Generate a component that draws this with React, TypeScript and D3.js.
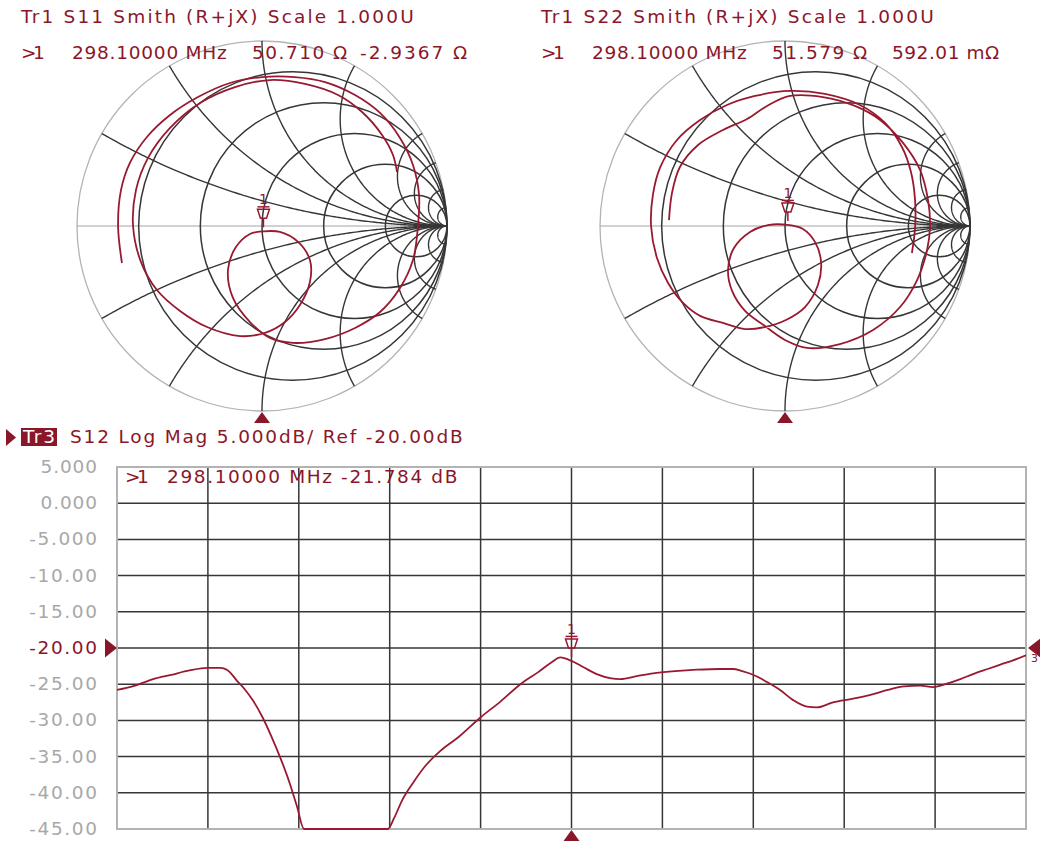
import React from "react";
import * as d3 from "d3";

const W = 1040;
const H = 843;
const TEXT_RED = "#8a1729";
const TRACE_RED = "#991a30";
const GRID_DARK = "#363636";
const RIM_GRAY = "#b3b3b3";
const AXIS_GRAY = "#a3a3a3";
const TICK_GRAY = "#a8a8a8";
const FONT = "'DejaVu Sans', Verdana, sans-serif";

// ---- Smith chart geometry ----
const SMITH_RADIUS = 185;
const SMITH_CY = 226;
const S11_CX = 262;
const S22_CX = 785;
const Z0 = 50;

// Grid: constant-resistance circles and constant-reactance arcs (normalized)
const resistanceCircles = [0.2, 0.5, 1, 2, 5];
const reactanceArcs = [0.268, 0.577, 1, 1.732, 3.732, 5.67, 10, 20];

// ---- S11 trace, reflection coefficient ----
const s11Re = [
  -0.757, -0.778, -0.762, -0.714, -0.622, -0.497, -0.346, -0.173, 0.0, 0.178,
  0.341, 0.503, 0.638, 0.746, 0.816, 0.849, 0.843, 0.816, 0.746, 0.638,
  0.503, 0.341, 0.168, 0.043, -0.065, -0.157, -0.184, -0.141, -0.065, 0.0079,
  0.097, 0.195, 0.259, 0.259, 0.205, 0.124, 0.016, -0.119, -0.297, -0.443,
  -0.568, -0.654, -0.697, -0.681, -0.616, -0.497, -0.335, -0.146, 0.043, 0.232,
  0.411, 0.541, 0.649, 0.708, 0.73,
];
const s11Im = [
  -0.2, 0.0, 0.195, 0.341, 0.481, 0.6, 0.697, 0.773, 0.805, 0.805,
  0.778, 0.708, 0.611, 0.476, 0.33, 0.168, 0.0, -0.184, -0.335, -0.465,
  -0.551, -0.611, -0.632, -0.605, -0.519, -0.389, -0.238, -0.114, -0.043, -0.0289,
  -0.032, -0.086, -0.184, -0.303, -0.427, -0.519, -0.578, -0.595, -0.546, -0.459,
  -0.346, -0.195, 0.0, 0.195, 0.368, 0.53, 0.665, 0.751, 0.789, 0.768,
  0.708, 0.616, 0.492, 0.384, 0.292,
];
const s11MarkerR = 50.71;
const s11MarkerX = -2.9367;

// ---- S22 trace, reflection coefficient ----
const s22Re = [
  -0.627, -0.611, -0.568, -0.47, -0.335, -0.205, -0.097, 0.027, 0.205, 0.378,
  0.514, 0.638, 0.73, 0.773, 0.784, 0.768, 0.714, 0.622, 0.476, 0.297,
  0.119, 0.0, -0.108, -0.216, -0.286, -0.308, -0.276, -0.189, -0.092, 0.0156,
  0.097, 0.162, 0.195, 0.178, 0.108, 0.005, -0.108, -0.216, -0.335, -0.459,
  -0.551, -0.632, -0.692, -0.724, -0.714, -0.676, -0.584, -0.459, -0.314, -0.162,
  0.027, 0.216, 0.405, 0.541, 0.632, 0.681, 0.703, 0.703, 0.686,
];
const s22Im = [
  0.032, 0.178, 0.319, 0.438, 0.519, 0.578, 0.649, 0.703, 0.697, 0.649,
  0.573, 0.449, 0.303, 0.141, 0.0, -0.13, -0.292, -0.438, -0.562, -0.638,
  -0.659, -0.616, -0.541, -0.459, -0.351, -0.238, -0.119, -0.032, 0.005, 0.0057,
  -0.016, -0.086, -0.195, -0.319, -0.438, -0.508, -0.546, -0.557, -0.524, -0.486,
  -0.416, -0.308, -0.173, 0.0, 0.168, 0.314, 0.465, 0.573, 0.654, 0.703,
  0.73, 0.714, 0.654, 0.557, 0.427, 0.292, 0.141, -0.011, -0.146,
];
const s22MarkerR = 51.579;
const s22MarkerX = 0.59201;

// ---- S12 log magnitude sweep ----
const sweepStartMHz = 48.1;
const sweepStopMHz = 548.1;
const freqDivisions = 10;
const markerFreqMHz = 298.1;
const s12MarkerDb = -21.784;
const refLevelDb = -20;
const s12FreqMHz = [
  48.1, 58, 68, 78, 88, 98, 105, 110, 114, 118,
  123, 128, 133, 138, 143, 147, 151, 197, 200.5, 205,
  211, 218, 226, 236, 248, 259, 270, 280, 287, 292,
  298.1, 305, 312, 320, 325, 334, 343, 355, 367, 380,
  387, 392, 398, 405.6, 412.8, 420, 427.6, 433, 442, 453,
  462, 472, 481, 490, 497, 505, 512, 519, 527, 534,
  541, 548.1,
];
const s12Db = [
  -25.8, -25.2, -24.3, -23.7, -23.1, -22.75, -22.75, -23.3, -24.5, -25.6,
  -27.3, -29.5, -32.2, -35.2, -38.6, -41.8, -45, -45, -43.5, -41.0,
  -38.6, -36.2, -34.2, -32.3, -29.6, -27.4, -25.0, -23.3, -22.0, -21.3,
  -21.784, -22.7, -23.6, -24.2, -24.3, -23.9, -23.5, -23.2, -23.0, -22.9,
  -22.9, -23.2, -23.7, -24.7, -25.8, -27.2, -28.1, -28.2, -27.5, -27.0,
  -26.5, -25.8, -25.3, -25.2, -25.4, -24.9, -24.3, -23.6, -22.9, -22.3,
  -21.7, -21.0,
];
const dbTicks = [5, 0, -5, -10, -15, -20, -25, -30, -35, -40, -45];
const dbTickLabels = [
  "5.000", "0.000", "-5.000", "-10.00", "-15.00", "-20.00",
  "-25.00", "-30.00", "-35.00", "-40.00", "-45.00",
];

// Plot frame of the log-mag trace
const PLOT_LEFT = 117;
const PLOT_RIGHT = 1026;
const PLOT_TOP = 467;
const PLOT_BOTTOM = 829;

// z = r + jx  ->  reflection coefficient
function gamma(r: number, x: number): [number, number] {
  const den = (r + 1) * (r + 1) + x * x;
  return [(r * r - 1 + x * x) / den, (2 * x) / den];
}

function SpacedText(props: {
  x: number;
  y: number;
  text: string;
  pitch?: number;
  fill?: string;
  size?: number;
}) {
  const { x, y, text, pitch = 11.9, fill = TEXT_RED, size = 18.5 } = props;
  return (
    <text
      x={x}
      y={y}
      fill={fill}
      fontSize={size}
      textLength={text.length * pitch}
      lengthAdjust="spacing"
    >
      {text}
    </text>
  );
}

function MarkerGlyph({ mx, my }: { mx: number; my: number }) {
  return (
    <g stroke={TRACE_RED} strokeWidth={1.5} fill="none">
      <text
        x={mx}
        y={my - 27}
        fontSize={14}
        textAnchor="middle"
        fill={TEXT_RED}
        stroke="none"
      >
        1
      </text>
      <line x1={mx - 6} x2={mx + 6} y1={my - 24.5} y2={my - 24.5} />
      <path d={`M${mx - 6},${my - 22}H${mx + 6}L${mx + 3},${my - 13}H${mx - 3}Z`} />
      <line x1={mx} x2={mx} y1={my - 13} y2={my - 4} />
    </g>
  );
}

function UpTriangle({ x, y }: { x: number; y: number }) {
  return <path d={`M${x},${y}L${x + 8},${y + 11}L${x - 8},${y + 11}Z`} fill={TEXT_RED} />;
}

function SmithChart(props: {
  cx: number;
  re: number[];
  im: number[];
  markerR: number;
  markerX: number;
  title: string;
  textX: number;
  valueTexts: { x: number; text: string }[];
}) {
  const { cx, re, im, markerR, markerX, title, textX, valueTexts } = props;
  const sx = d3.scaleLinear().domain([-1, 1]).range([cx - SMITH_RADIUS, cx + SMITH_RADIUS]);
  const sy = d3.scaleLinear().domain([-1, 1]).range([SMITH_CY + SMITH_RADIUS, SMITH_CY - SMITH_RADIUS]);

  const gridLine = d3
    .line<[number, number]>()
    .x((d) => sx(d[0]))
    .y((d) => sy(d[1]));
  const traceLine = d3
    .line<[number, number]>()
    .x((d) => sx(d[0]))
    .y((d) => sy(d[1]))
    .curve(d3.curveCatmullRom.alpha(0.5));

  // resistance samples along each reactance arc, from the rim (r = 0) toward the open point
  const rSamples = d3.range(0, 301).map((i) => (Math.pow(10001, i / 300) - 1) / 10);
  const arcPaths = reactanceArcs
    .flatMap((x) => [x, -x])
    .map((x) => gridLine(rSamples.map((r) => gamma(r, x))) as string);

  const tracePath = traceLine(re.map((v, i) => [v, im[i]] as [number, number])) as string;
  const [mgr, mgi] = gamma(markerR / Z0, markerX / Z0);
  const mx = sx(mgr);
  const my = sy(mgi);

  return (
    <g>
      <circle cx={sx(0)} cy={sy(0)} r={SMITH_RADIUS} fill="none" stroke={RIM_GRAY} strokeWidth={1.3} />
      <line x1={sx(-1)} x2={sx(1)} y1={sy(0)} y2={sy(0)} stroke={AXIS_GRAY} strokeWidth={1.2} />
      {resistanceCircles.map((r) => (
        <circle
          key={`r${r}`}
          cx={sx(r / (1 + r))}
          cy={sy(0)}
          r={sx(1 / (1 + r)) - sx(0)}
          fill="none"
          stroke={GRID_DARK}
          strokeWidth={1.5}
        />
      ))}
      {arcPaths.map((d, i) => (
        <path key={`x${i}`} d={d} fill="none" stroke={GRID_DARK} strokeWidth={1.4} />
      ))}
      <path d={tracePath} fill="none" stroke={TRACE_RED} strokeWidth={1.8} />
      <MarkerGlyph mx={mx} my={my} />
      <UpTriangle x={sx(0)} y={sy(-1) + 1} />
      <SpacedText x={textX} y={23} text={title} />
      {valueTexts.map((t, i) => (
        <SpacedText key={i} x={t.x} y={59} text={t.text} />
      ))}
    </g>
  );
}

function LogMagChart() {
  const x = d3.scaleLinear().domain([sweepStartMHz, sweepStopMHz]).range([PLOT_LEFT, PLOT_RIGHT]);
  const y = d3.scaleLinear().domain([-45, 5]).range([PLOT_BOTTOM, PLOT_TOP]);
  const step = (sweepStopMHz - sweepStartMHz) / freqDivisions;
  const vLines = d3.range(1, freqDivisions).map((i) => sweepStartMHz + i * step);
  const hLines = dbTicks.slice(1, -1);

  const line = d3
    .line<[number, number]>()
    .x((d) => x(d[0]))
    .y((d) => y(d[1]))
    .curve(d3.curveMonotoneX);
  const tracePath = line(s12FreqMHz.map((f, i) => [f, s12Db[i]] as [number, number])) as string;

  const mx = x(markerFreqMHz);
  const my = y(s12MarkerDb);
  const ry = y(refLevelDb);

  return (
    <g>
      <defs>
        <clipPath id="plotClip">
          <rect x={PLOT_LEFT} y={PLOT_TOP - 1} width={PLOT_RIGHT - PLOT_LEFT} height={PLOT_BOTTOM - PLOT_TOP + 2} />
        </clipPath>
      </defs>
      {hLines.map((v) => (
        <line key={`h${v}`} x1={PLOT_LEFT} x2={PLOT_RIGHT} y1={y(v)} y2={y(v)} stroke={GRID_DARK} strokeWidth={1.5} />
      ))}
      {vLines.map((f, i) => (
        <line key={`v${i}`} x1={x(f)} x2={x(f)} y1={PLOT_TOP} y2={PLOT_BOTTOM} stroke={GRID_DARK} strokeWidth={1.5} />
      ))}
      <rect
        x={PLOT_LEFT}
        y={PLOT_TOP}
        width={PLOT_RIGHT - PLOT_LEFT}
        height={PLOT_BOTTOM - PLOT_TOP}
        fill="none"
        stroke={RIM_GRAY}
        strokeWidth={2}
      />
      {dbTicks.map((v, i) => {
        const label = dbTickLabels[i];
        const pitch = 11.3;
        return (
          <SpacedText
            key={`t${v}`}
            x={97 - label.length * pitch}
            y={y(v) + 6}
            text={label}
            pitch={pitch}
            fill={v === refLevelDb ? TEXT_RED : TICK_GRAY}
          />
        );
      })}
      <path d={tracePath} fill="none" stroke={TRACE_RED} strokeWidth={1.8} clipPath="url(#plotClip)" />
      <MarkerGlyph mx={mx} my={my} />
      <UpTriangle x={mx} y={PLOT_BOTTOM + 1} />
      {/* reference level pointers */}
      <path d={`M105,${ry - 9.5}L105,${ry + 9.5}L117,${ry}Z`} fill={TEXT_RED} />
      <path d={`M1041,${ry - 10}L1041,${ry + 10}L1028,${ry}Z`} fill={TEXT_RED} />
      <text x={1031} y={ry + 14} fontSize={11} fill={TEXT_RED}>
        3
      </text>
      {/* trace header */}
      <path d="M6,429L6,446L16,437.5Z" fill={TEXT_RED} />
      <rect x={21} y={428} width={36} height={18} fill={TEXT_RED} />
      <SpacedText x={23} y={443} text="Tr3" pitch={10.7} fill="#ffffff" />
      <SpacedText x={70} y={443} text="S12 Log Mag 5.000dB/ Ref -20.00dB" />
      <SpacedText x={125} y={483} text=">1" />
      <SpacedText x={167} y={483} text="298.10000 MHz -21.784 dB" pitch={12.1} />
    </g>
  );
}

export default function App() {
  return (
    <svg
      width={W}
      height={H}
      viewBox={`0 0 ${W} ${H}`}
      style={{ position: "absolute", left: 0, top: 0, background: "#ffffff" }}
      fontFamily={FONT}
    >
      <rect x={0} y={0} width={W} height={H} fill="#ffffff" />
      <SmithChart
        cx={S11_CX}
        re={s11Re}
        im={s11Im}
        markerR={s11MarkerR}
        markerX={s11MarkerX}
        title="Tr1 S11 Smith (R+jX) Scale 1.000U"
        textX={21}
        valueTexts={[
          { x: 21, text: ">1" },
          { x: 72, text: "298.10000 MHz" },
          { x: 252, text: "50.710 Ω" },
          { x: 360, text: "-2.9367 Ω" },
        ]}
      />
      <SmithChart
        cx={S22_CX}
        re={s22Re}
        im={s22Im}
        markerR={s22MarkerR}
        markerX={s22MarkerX}
        title="Tr1 S22 Smith (R+jX) Scale 1.000U"
        textX={541}
        valueTexts={[
          { x: 541, text: ">1" },
          { x: 592, text: "298.10000 MHz" },
          { x: 772, text: "51.579 Ω" },
          { x: 892, text: "592.01 mΩ" },
        ]}
      />
      <LogMagChart />
    </svg>
  );
}
